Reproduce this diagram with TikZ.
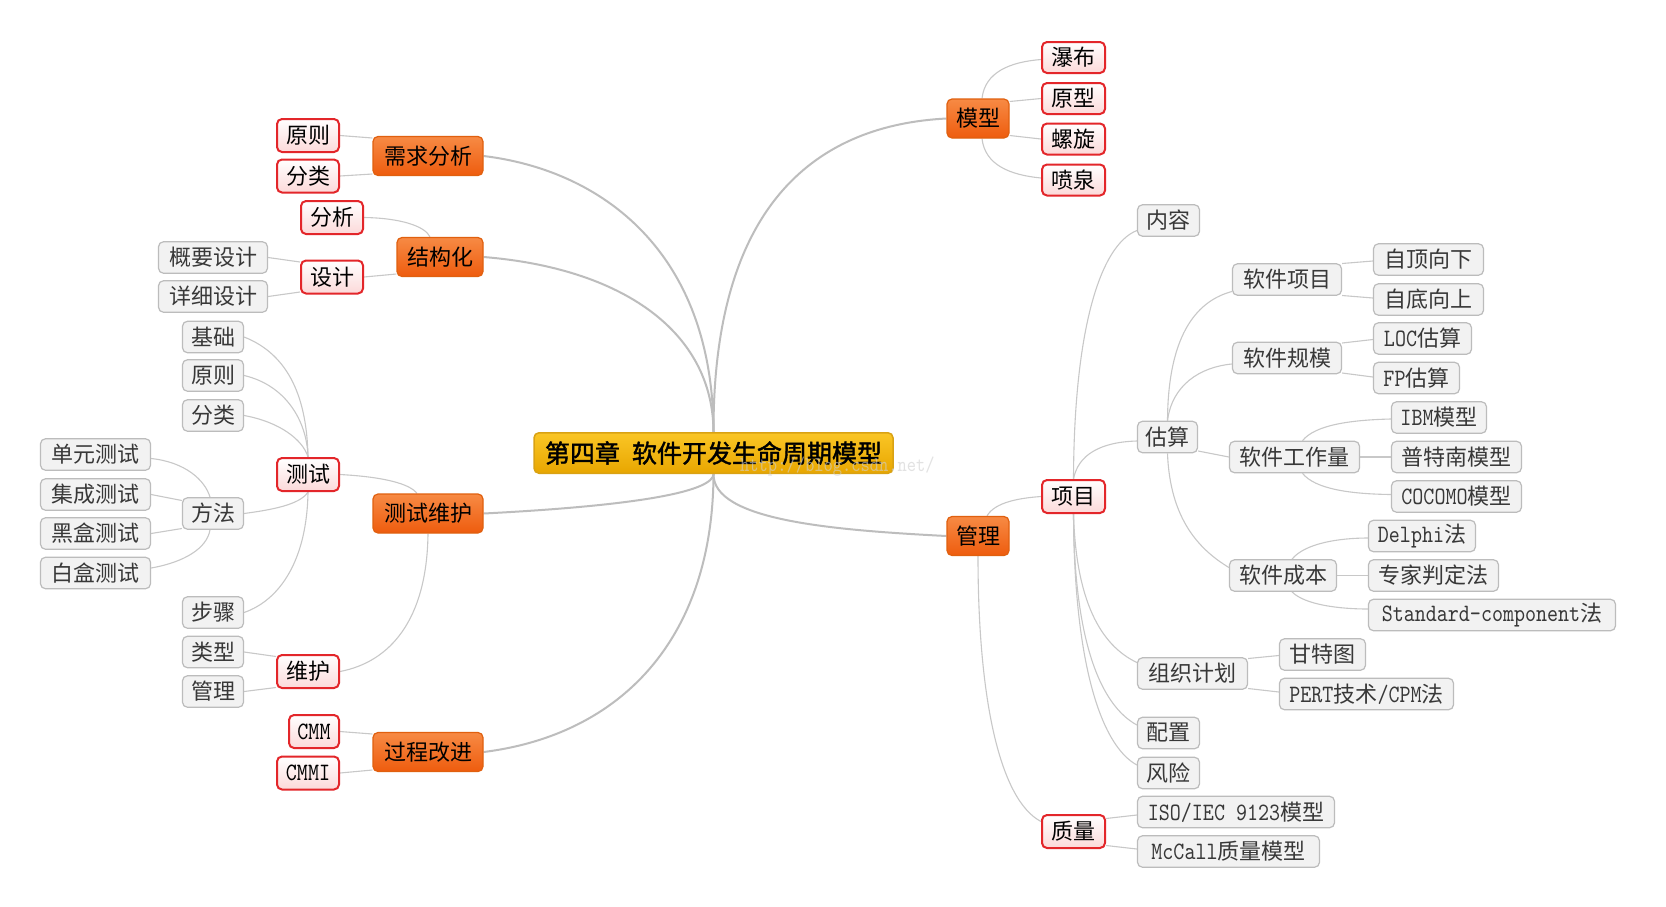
\documentclass[tikz,border=0pt]{standalone}
\usepackage{fontspec}
\setmainfont{Noto Sans CJK SC}
\newfontfamily\cenfont[FakeBold=1.6]{Noto Sans CJK SC}
\newfontfamily\latfont[Extension=.otf,FakeStretch=0.84]{lmmono10-regular}
\newcommand{\latn}[1]{{\latfont\fontsize{25}{26}\selectfont #1}}
\usetikzlibrary{calc}
\pgfdeclarelayer{bg}
\pgfsetlayers{bg,main}
\definecolor{orT}{HTML}{F78A44}
\definecolor{orB}{HTML}{EE5C0E}
\definecolor{orD}{HTML}{E0600F}
\definecolor{rdD}{HTML}{E3262A}
\definecolor{rdB}{HTML}{FCD9D9}
\definecolor{gyF}{HTML}{F2F2F2}
\definecolor{gyD}{HTML}{BCBCBC}
\definecolor{gdT}{HTML}{FAC626}
\definecolor{gdB}{HTML}{E8A600}
\definecolor{gdD}{HTML}{D9A214}
\definecolor{lnS}{HTML}{C8C8C8}
\definecolor{lnM}{HTML}{BDBDBD}
\definecolor{txG}{HTML}{383838}
\definecolor{wmC}{HTML}{D0D0D0}
\tikzset{
 nbase/.style={rounded corners=5pt, inner sep=0pt, align=center, font=\fontsize{22}{26}\selectfont},
 cennode/.style={nbase, top color=gdT, bottom color=gdB, draw=gdD, line width=1.5pt, minimum height=40.5pt, font=\cenfont\fontsize{25}{28}\selectfont},
 ornode/.style={nbase, top color=orT, bottom color=orB, draw=orD, line width=1.2pt, minimum height=39pt},
 rednode/.style={nbase, top color=white, bottom color=rdB, draw=rdD, line width=2pt, minimum height=33pt},
 grynode/.style={nbase, fill=gyF, draw=gyD, line width=1.2pt, minimum height=31.5pt, text=txG},
 mainln/.style={draw=lnM, line width=2pt},
 subln/.style={draw=lnS, line width=1.1pt},
}
\begin{document}
\begin{tikzpicture}[x=1pt,y=-1pt]
\useasboundingbox (0,0) rectangle (1666,906);
% ---------- nodes ----------
\node[cennode, minimum width=359pt] (c) at (713.5,453) {第四章\hspace{12pt}软件开发生命周期模型};
% orange
\node[ornode, minimum width=110pt] (xq) at (428,156) {需求分析};
\node[ornode, minimum width=86pt] (jg) at (440,257) {结构化};
\node[ornode, minimum width=110pt] (cw) at (428,513.5) {测试维护};
\node[ornode, minimum width=110pt] (gc) at (428,752) {过程改进};
\node[ornode, minimum width=62pt] (mx) at (978,118.5) {模型};
\node[ornode, minimum width=62pt] (gl) at (978,536) {管理};
% red
\node[rednode, minimum width=62pt] (xq1) at (308,135.5) {原则};
\node[rednode, minimum width=62pt] (xq2) at (308,176) {分类};
\node[rednode, minimum width=62pt] (jg1) at (332,217.5) {分析};
\node[rednode, minimum width=62pt] (jg2) at (332,277) {设计};
\node[rednode, minimum width=62pt] (cs) at (308,474.5) {测试};
\node[rednode, minimum width=62pt] (wh) at (308,671.5) {维护};
\node[rednode, minimum width=50pt] (cmm) at (314,731.5) {\latn{CMM}};
\node[rednode, minimum width=62pt] (cmmi) at (308,773) {\latn{CMMI}};
\node[rednode, minimum width=63pt, minimum height=31pt] (m1) at (1073.5,57.5) {瀑布};
\node[rednode, minimum width=63pt, minimum height=31pt] (m2) at (1073.5,98.5) {原型};
\node[rednode, minimum width=63pt, minimum height=31pt] (m3) at (1073.5,139) {螺旋};
\node[rednode, minimum width=63pt, minimum height=31pt] (m4) at (1073.5,180) {喷泉};
\node[rednode, minimum width=63pt] (xm) at (1073.5,496.5) {项目};
\node[rednode, minimum width=63pt] (zl) at (1073.5,831.5) {质量};
% gray
\node[grynode, minimum width=109pt] (gy) at (213,257.5) {概要设计};
\node[grynode, minimum width=109pt] (xx) at (213,296.5) {详细设计};
\node[grynode, minimum width=61pt] (jc) at (213,337) {基础};
\node[grynode, minimum width=61pt] (yz) at (213,375.5) {原则};
\node[grynode, minimum width=61pt] (fl) at (213,415.5) {分类};
\node[grynode, minimum width=61pt] (ff) at (213,513.5) {方法};
\node[grynode, minimum width=61pt] (bz) at (213,612.5) {步骤};
\node[grynode, minimum width=61pt] (lx) at (213,652) {类型};
\node[grynode, minimum width=61pt] (glw) at (213,691.5) {管理};
\node[grynode, minimum width=110pt] (t1) at (95.5,454.5) {单元测试};
\node[grynode, minimum width=110pt] (t2) at (95.5,494.5) {集成测试};
\node[grynode, minimum width=110pt] (t3) at (95.5,533.5) {黑盒测试};
\node[grynode, minimum width=110pt] (t4) at (95.5,573) {白盒测试};
\node[grynode, minimum width=62pt] (nr) at (1168.5,220.5) {内容};
\node[grynode, minimum width=60pt] (gs) at (1167.5,437) {估算};
\node[grynode, minimum width=109pt] (xmu) at (1287,279.5) {软件项目};
\node[grynode, minimum width=109pt] (gm) at (1287,358) {软件规模};
\node[grynode, minimum width=130pt] (gzl) at (1294.5,457) {软件工作量};
\node[grynode, minimum width=107pt] (cb) at (1283,575.5) {软件成本};
\node[grynode, minimum width=110pt] (zd) at (1428.5,259.5) {自顶向下};
\node[grynode, minimum width=110pt] (zdu) at (1428.5,299.5) {自底向上};
\node[grynode, minimum width=98pt] (loc) at (1422.5,338.5) {\latn{LOC}估算};
\node[grynode, minimum width=86pt] (fp) at (1416.5,378) {\latn{FP}估算};
\node[grynode, minimum width=95pt] (ibm) at (1439,417.5) {\latn{IBM}模型};
\node[grynode, minimum width=130pt] (ptn) at (1456.5,457) {普特南模型};
\node[grynode, minimum width=130pt] (coc) at (1456.5,496.5) {\latn{COCOMO}模型};
\node[grynode, minimum width=107pt] (del) at (1422,536) {\latn{Delphi}法};
\node[grynode, minimum width=130pt] (zj) at (1433.5,575.5) {专家判定法};
\node[grynode, minimum width=247pt] (std) at (1492,615) {\latn{Standard-component}法};
\node[grynode, minimum width=110pt] (zz) at (1192.5,673.5) {组织计划};
\node[grynode, minimum width=86pt] (gt) at (1322.5,654.5) {甘特图};
\node[grynode, minimum width=174pt] (pert) at (1366.5,694) {\latn{PERT}技术\latn{/CPM}法};
\node[grynode, minimum width=62pt] (pz) at (1168.5,733) {配置};
\node[grynode, minimum width=62pt] (fx) at (1168.5,773) {风险};
\node[grynode, minimum width=197pt] (iso) at (1236,812) {\latn{ISO/IEC 9123}模型};
\node[grynode, minimum width=182pt] (mc) at (1228.5,851.5) {\latn{McCall}质量模型};
% watermark
\node[anchor=west, inner sep=0pt, text=wmC, text opacity=0.6, font=\latfont\fontsize{21}{23}\selectfont] (wmk) at (740,467) {http://blog.csdn.net/};
% ---------- connectors ----------
\begin{pgfonlayer}{bg}
\fill[white] (0,0) rectangle (1666,906);
% main
\draw[mainln] (xq.east) .. controls (600,170) and (713,250) .. (c.north);
\draw[mainln] (jg.east) .. controls (620,268) and (713,330) .. (c.north);
\draw[mainln] (cw.east) .. controls (650,505) and (713,490) .. (c.south);
\draw[mainln] (gc.east) .. controls (620,735) and (713,640) .. (c.south);
\draw[mainln] (c.north) .. controls (713,200) and (820,125) .. (mx.west);
\draw[mainln] (c.south) .. controls (713,520) and (830,530) .. (gl.west);
% 需求分析
\draw[subln] ([yshift=18pt]xq.west) .. controls (356,137) .. (xq1.east);
\draw[subln] ([yshift=-18pt]xq.west) .. controls (356,175) .. (xq2.east);
% 结构化
\draw[subln] ([xshift=-10pt]jg.north) .. controls (425,226) and (400,218) .. (jg1.east);
\draw[subln] ([yshift=-17pt]jg.west) -- (jg2.east);
% 设计
\draw[subln] ([yshift=15pt]jg2.west) -- (gy.east);
\draw[subln] ([yshift=-15pt]jg2.west) -- (xx.east);
% 测试维护
\draw[subln] ([xshift=-11pt]cw.north) .. controls (410,484) and (385,477) .. (cs.east);
\draw[subln] (cw.south) .. controls (427,620) and (390,662) .. (wh.east);
% 测试
\draw[subln] (cs.north) .. controls (307,400) and (290,355) .. (jc.east);
\draw[subln] (cs.north) .. controls (307,420) and (285,385) .. (yz.east);
\draw[subln] (cs.north) .. controls (303,440) and (280,422) .. (fl.east);
\draw[subln] (cs.south) .. controls (300,505) and (270,510) .. (ff.east);
\draw[subln] (cs.south) .. controls (307,560) and (280,600) .. (bz.east);
% 方法
\draw[subln] ([xshift=-3pt]ff.north) .. controls (205,480) and (185,462) .. ([yshift=-4pt]t1.east);
\draw[subln] ([yshift=13pt]ff.west) -- (t2.east);
\draw[subln] ([yshift=-15pt]ff.west) -- (t3.east);
\draw[subln] ([xshift=-3pt]ff.south) .. controls (207,548) and (185,562) .. ([yshift=5pt]t4.east);
% 维护
\draw[subln] ([yshift=15pt]wh.west) -- (lx.east);
\draw[subln] ([yshift=-16pt]wh.west) -- (glw.east);
% 过程改进
\draw[subln] ([yshift=18pt]gc.west) -- (cmm.east);
\draw[subln] ([yshift=-18pt]gc.west) -- (cmmi.east);
% 模型
\draw[subln] ([xshift=4pt]mx.north) .. controls (985,72) and (1010,62) .. ([yshift=-2pt]m1.west);
\draw[subln] ([yshift=17pt]mx.east) -- (m2.west);
\draw[subln] ([yshift=-17pt]mx.east) -- (m3.west);
\draw[subln] ([xshift=4pt]mx.south) .. controls (985,165) and (1010,175) .. ([yshift=2pt]m4.west);
% 管理
\draw[subln] ([xshift=9pt]gl.north) .. controls (995,502) and (1020,498) .. (xm.west);
\draw[subln] (gl.south) .. controls (978,700) and (1000,800) .. ([yshift=10pt]zl.west);
% 项目
\draw[subln] (xm.north) .. controls (1074,330) and (1100,245) .. ([yshift=-10pt]nr.west);
\draw[subln] (xm.north) .. controls (1078,455) and (1100,442) .. ([yshift=-4pt]gs.west);
\draw[subln] (xm.south) .. controls (1076,600) and (1100,645) .. ([yshift=11pt]zz.west);
\draw[subln] (xm.south) .. controls (1074,640) and (1100,705) .. ([yshift=8pt]pz.west);
\draw[subln] (xm.south) .. controls (1074,660) and (1100,745) .. ([yshift=8pt]fx.west);
% 估算
\draw[subln] (gs.north) .. controls (1168,330) and (1200,300) .. ([yshift=-12pt]xmu.west);
\draw[subln] (gs.north) .. controls (1172,385) and (1200,367) .. ([yshift=-6pt]gm.west);
\draw[subln] ([yshift=-14pt]gs.east) -- (gzl.west);
\draw[subln] (gs.south) .. controls (1170,520) and (1200,550) .. ([yshift=8pt]cb.west);
% 软件项目
\draw[subln] ([yshift=16pt]xmu.east) -- ([yshift=-1.5pt]zd.west);
\draw[subln] ([yshift=-16pt]xmu.east) -- ([yshift=1.5pt]zdu.west);
% 软件规模
\draw[subln] ([yshift=15pt]gm.east) -- ([yshift=-1pt]loc.west);
\draw[subln] ([yshift=-15pt]gm.east) -- ([yshift=1pt]fp.west);
% 软件工作量
\draw[subln] ([xshift=8pt]gzl.north) .. controls (1315,425) and (1350,420) .. ([yshift=-1.5pt]ibm.west);
\draw[subln] (gzl.east) -- (ptn.west);
\draw[subln] ([xshift=8pt]gzl.south) .. controls (1315,489) and (1350,494) .. ([yshift=2pt]coc.west);
% 软件成本
\draw[subln] ([xshift=9pt]cb.north) .. controls (1305,543) and (1340,538) .. ([yshift=-2pt]del.west);
\draw[subln] (cb.east) -- (zj.west);
\draw[subln] ([xshift=9pt]cb.south) .. controls (1305,605) and (1340,609) .. ([yshift=6pt]std.west);
% 组织计划
\draw[subln] ([yshift=15pt]zz.east) -- ([yshift=-1pt]gt.west);
\draw[subln] ([yshift=-15pt]zz.east) -- ([yshift=2pt]pert.west);
% 质量
\draw[subln] ([yshift=13pt]zl.east) -- ([yshift=-3pt]iso.west);
\draw[subln] ([yshift=-14pt]zl.east) -- ([yshift=2.5pt]mc.west);
\end{pgfonlayer}
\end{tikzpicture}
\end{document}
